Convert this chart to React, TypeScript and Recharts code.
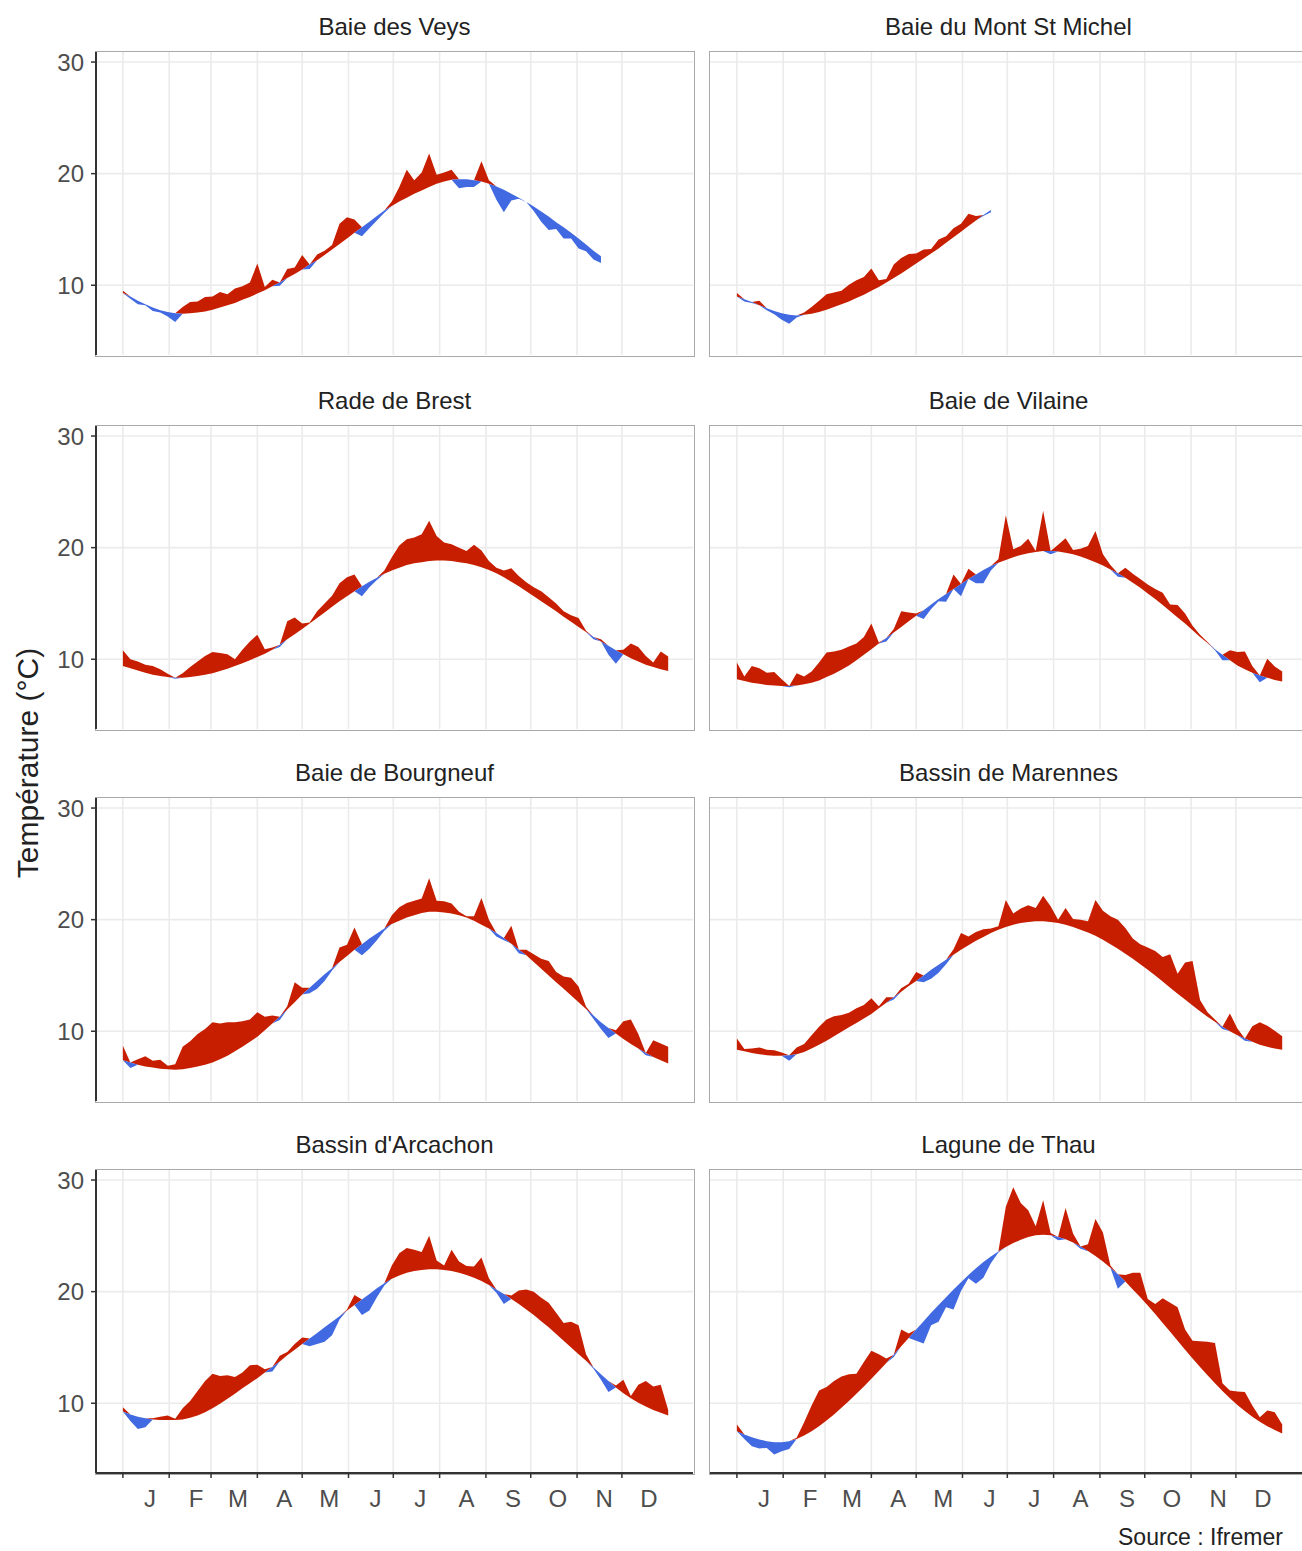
import { ComposedChart, Area, XAxis, YAxis, CartesianGrid } from 'recharts';

// Anomalies de température par rapport à la climatologie (pas de 5 jours)
const _ = null;

const DAYS = [
  0, 5, 10, 15, 20, 25, 30, 35, 40, 45,
  50, 55, 60, 65, 70, 75, 80, 85, 90, 95,
  100, 105, 110, 115, 120, 125, 130, 135, 140, 145,
  150, 155, 160, 165, 170, 175, 180, 185, 190, 195,
  200, 205, 210, 215, 220, 225, 230, 235, 240, 245,
  250, 255, 260, 265, 270, 275, 280, 285, 290, 295,
  300, 305, 310, 315, 320, 325, 330, 335, 340, 345,
  350, 355, 360, 365,
];

const MONTH_STARTS = [0, 31, 59, 90, 120, 151, 181, 212, 243, 273, 304, 334];
const MONTH_LABELS = ['J', 'F', 'M', 'A', 'M', 'J', 'J', 'A', 'S', 'O', 'N', 'D'];
const Y_TICKS = [10, 20, 30];

// Baie des Veys
const VEYS_CLIM = [
  9.3, 9.0, 8.6, 8.3, 8.0, 7.75, 7.6, 7.5, 7.45, 7.5,
  7.55, 7.65, 7.8, 8.0, 8.2, 8.4, 8.7, 8.95, 9.25, 9.55,
  9.9, 10.25, 10.65, 11.0, 11.4, 11.85, 12.25, 12.7, 13.2, 13.7,
  14.2, 14.7, 15.2, 15.7, 16.2, 16.7, 17.1, 17.5, 17.85, 18.2,
  18.5, 18.8, 19.1, 19.3, 19.45, 19.5, 19.5, 19.4, 19.3, 19.1,
  18.85, 18.55, 18.2, 17.85, 17.45, 17.05, 16.6, 16.15, 15.65, 15.2,
  14.7, 14.2, 13.65, 13.1, 12.6, _, _, _, _, _,
  _, _, _, _,
];
const VEYS_ECART = [
  0.2, -0.2, -0.3, -0.1, -0.3, -0.2, -0.4, -0.8, 0.6, 1.0,
  1.0, 1.3, 1.2, 1.4, 1.0, 1.3, 1.2, 1.3, 2.7, 0.3,
  0.6, -0.3, 0.8, 0.6, 1.3, -0.4, 0.5, 0.4, 0.4, 1.8,
  1.9, 1.2, -0.8, -0.6, -0.4, -0.2, 0.4, 1.3, 2.5, 1.2,
  1.6, 3.0, 0.8, 0.8, 0.9, -0.8, -0.7, -0.6, 1.8, 0.3,
  -1.2, -2.0, -0.6, -0.1, 0.0, -0.4, -0.9, -1.2, -0.6, -1.0,
  -0.5, -0.9, -0.6, -0.8, -0.6, _, _, _, _, _,
  _, _, _, _,
];

// Baie du Mont St Michel
const MSM_CLIM = [
  9.0, 8.75, 8.5, 8.2, 7.95, 7.7, 7.5, 7.35, 7.3, 7.35,
  7.45, 7.6, 7.8, 8.05, 8.3, 8.55, 8.85, 9.15, 9.5, 9.85,
  10.25, 10.65, 11.05, 11.5, 11.95, 12.4, 12.85, 13.3, 13.8, 14.3,
  14.8, 15.3, 15.8, 16.3, 16.75, _, _, _, _, _,
  _, _, _, _, _, _, _, _, _, _,
  _, _, _, _, _, _, _, _, _, _,
  _, _, _, _, _, _, _, _, _, _,
  _, _, _, _,
];
const MSM_ECART = [
  0.3, -0.2, -0.1, 0.4, -0.2, -0.3, -0.6, -0.8, -0.2, 0.2,
  0.6, 1.0, 1.4, 1.3, 1.2, 1.5, 1.6, 1.6, 2.0, 0.6,
  0.3, 1.2, 1.4, 1.3, 0.9, 0.8, 0.4, 0.8, 0.6, 0.8,
  0.7, 1.1, 0.4, -0.1, -0.2, _, _, _, _, _,
  _, _, _, _, _, _, _, _, _, _,
  _, _, _, _, _, _, _, _, _, _,
  _, _, _, _, _, _, _, _, _, _,
  _, _, _, _,
];

// Rade de Brest
const BREST_CLIM = [
  9.4, 9.2, 9.0, 8.8, 8.6, 8.5, 8.4, 8.35, 8.35, 8.4,
  8.5, 8.6, 8.75, 8.95, 9.15, 9.4, 9.65, 9.9, 10.2, 10.5,
  10.85, 11.3, 11.8, 12.25, 12.7, 13.2, 13.7, 14.2, 14.7, 15.2,
  15.65, 16.1, 16.55, 16.95, 17.3, 17.65, 17.95, 18.2, 18.45, 18.6,
  18.7, 18.8, 18.85, 18.85, 18.8, 18.7, 18.6, 18.45, 18.25, 18.0,
  17.7, 17.35, 16.95, 16.55, 16.1, 15.65, 15.2, 14.75, 14.3, 13.8,
  13.35, 12.9, 12.45, 12.0, 11.6, 11.2, 10.8, 10.45, 10.1, 9.8,
  9.5, 9.3, 9.1, 8.95,
];
const BREST_ECART = [
  1.4, 0.8, 0.8, 0.7, 0.8, 0.6, 0.3, -0.1, 0.4, 0.9,
  1.3, 1.7, 1.9, 1.6, 1.3, 0.6, 1.2, 1.7, 2.0, 0.4,
  0.2, -0.2, 1.6, 1.5, 0.5, 0.1, 0.6, 0.8, 1.0, 1.6,
  1.7, 1.5, -0.9, -0.5, -0.2, 0.3, 1.2, 2.0, 2.3, 2.3,
  2.5, 3.6, 2.2, 1.6, 1.5, 1.3, 1.1, 1.8, 1.5, 0.8,
  0.5, 0.6, 1.2, 0.9, 0.8, 0.8, 0.9, 0.8, 0.7, 0.5,
  0.6, 0.8, 0.1, -0.2, 0.2, -0.8, -1.2, 0.4, 1.3, 1.3,
  0.8, 0.4, 1.6, 1.3,
];

// Baie de Vilaine
const VILAINE_CLIM = [
  8.2, 8.05, 7.9, 7.8, 7.7, 7.65, 7.6, 7.6, 7.65, 7.75,
  7.9, 8.1, 8.4, 8.7, 9.05, 9.45, 9.9, 10.4, 10.9, 11.4,
  11.9, 12.4, 12.9, 13.4, 13.9, 14.4, 14.9, 15.4, 15.85, 16.3,
  16.75, 17.2, 17.6, 18.0, 18.35, 18.65, 18.9, 19.15, 19.35, 19.5,
  19.6, 19.7, 19.7, 19.65, 19.55, 19.4, 19.2, 18.95, 18.7, 18.4,
  18.05, 17.7, 17.3, 16.85, 16.4, 15.9, 15.4, 14.85, 14.3, 13.75,
  13.2, 12.6, 12.0, 11.45, 10.9, 10.4, 9.9, 9.45, 9.1, 8.8,
  8.55, 8.35, 8.15, 8.0,
];
const VILAINE_ECART = [
  1.5, 0.4, 1.5, 1.4, 1.1, 1.2, 0.6, -0.1, 1.1, 0.7,
  1.0, 1.6, 2.2, 2.0, 1.8, 1.7, 1.5, 1.6, 2.3, 0.1,
  -0.3, 0.3, 1.4, 0.8, 0.2, -0.8, -0.4, -0.2, -0.7, 1.3,
  -1.1, 0.9, -0.8, -1.2, -0.4, 0.3, 4.0, 0.7, 0.8, 1.3,
  0.1, 3.6, -0.3, 0.6, 1.3, 0.4, 0.7, 1.2, 2.8, 1.0,
  0.4, -0.3, 0.9, 0.8, 0.8, 0.8, 0.9, 1.1, 0.6, 1.1,
  0.9, 0.4, 0.2, 0.1, -0.1, -0.5, 0.9, 1.2, 1.6, 0.6,
  -0.6, 1.7, 1.2, 0.9,
];

// Baie de Bourgneuf
const BOURGNEUF_CLIM = [
  7.4, 7.2, 7.0, 6.85, 6.75, 6.65, 6.6, 6.55, 6.6, 6.7,
  6.85, 7.0, 7.2, 7.5, 7.8, 8.2, 8.6, 9.05, 9.5, 10.1,
  10.7, 11.3, 11.95, 12.6, 13.3, 13.9, 14.5, 15.1, 15.65, 16.2,
  16.75, 17.3, 17.8, 18.3, 18.75, 19.2, 19.6, 19.9, 20.2, 20.4,
  20.6, 20.7, 20.7, 20.65, 20.55, 20.4, 20.2, 19.9, 19.55, 19.2,
  18.8, 18.35, 17.85, 17.3, 16.8, 16.2, 15.6, 15.0, 14.4, 13.8,
  13.2, 12.6, 12.0, 11.4, 10.8, 10.3, 9.8, 9.3, 8.85, 8.45,
  8.05, 7.7, 7.4, 7.1,
];
const BOURGNEUF_ECART = [
  1.3, -0.5, 0.5, 0.9, 0.6, 0.8, 0.3, 0.5, 2.0, 2.4,
  2.9, 3.2, 3.6, 3.2, 3.0, 2.6, 2.3, 2.0, 2.2, 1.2,
  0.7, -0.3, 0.3, 1.8, 0.6, -0.5, -0.7, -0.6, -0.2, 1.3,
  1.0, 2.0, -1.0, -0.9, -0.6, -0.2, 0.8, 1.2, 1.3, 1.3,
  1.3, 3.0, 1.0, 1.0, 0.9, 0.3, 0.1, 0.4, 2.4, 0.8,
  -0.3, -0.2, 1.6, -0.3, 0.5, 0.7, 0.9, 1.3, 0.9, 1.1,
  1.6, 1.4, 0.2, -0.3, -0.6, -0.9, 0.3, 1.6, 2.2, 1.3,
  -0.2, 1.5, 1.5, 1.5,
];

// Bassin de Marennes
const MARENNES_CLIM = [
  8.35, 8.2, 8.05, 7.95, 7.85, 7.8, 7.8, 7.85, 7.95, 8.15,
  8.45, 8.8, 9.15, 9.55, 9.95, 10.35, 10.75, 11.15, 11.55, 12.05,
  12.55, 13.05, 13.55, 14.05, 14.5, 15.0, 15.5, 15.95, 16.4, 16.85,
  17.3, 17.7, 18.1, 18.45, 18.8, 19.1, 19.35, 19.55, 19.7, 19.8,
  19.85, 19.85, 19.8, 19.7, 19.55, 19.35, 19.1, 18.85, 18.55, 18.2,
  17.8, 17.4, 16.95, 16.5, 16.0, 15.5, 15.0, 14.45, 13.9, 13.35,
  12.85, 12.3, 11.8, 11.3, 10.85, 10.4, 10.0, 9.65, 9.35, 9.05,
  8.8, 8.6, 8.45, 8.35,
];
const MARENNES_ECART = [
  1.0, 0.2, 0.4, 0.6, 0.5, 0.5, 0.3, -0.5, 0.6, 0.7,
  1.2, 1.6, 1.9, 1.8, 1.5, 1.3, 1.3, 1.2, 1.4, 0.2,
  0.5, -0.2, 0.3, 0.2, 0.8, -0.6, -0.8, -0.7, -0.4, 0.5,
  1.5, 0.8, 0.8, 0.7, 0.4, 0.3, 2.4, 1.0, 1.3, 1.5,
  1.2, 2.3, 1.4, 0.3, 1.5, 0.7, 0.9, 1.0, 3.2, 2.6,
  2.5, 2.6, 2.3, 1.8, 1.8, 2.0, 2.2, 2.2, 3.0, 1.8,
  3.3, 4.0, 1.0, 0.4, 0.2, -0.2, 1.6, 0.6, -0.2, 1.4,
  2.0, 1.9, 1.6, 1.2,
];

// Bassin d'Arcachon
const ARCACHON_CLIM = [
  9.25, 9.0, 8.8, 8.65, 8.55, 8.5, 8.5, 8.5, 8.55, 8.7,
  8.9, 9.2, 9.55, 9.95, 10.4, 10.85, 11.35, 11.8, 12.25, 12.75,
  13.25, 13.75, 14.3, 14.8, 15.3, 15.8, 16.3, 16.8, 17.3, 17.8,
  18.3, 18.8, 19.3, 19.8, 20.3, 20.75, 21.15, 21.45, 21.7, 21.85,
  21.95, 22.0, 22.0, 21.95, 21.85, 21.7, 21.5, 21.25, 20.95, 20.6,
  20.2, 19.8, 19.35, 18.9, 18.4, 17.9, 17.35, 16.8, 16.2, 15.6,
  15.0, 14.4, 13.8, 13.2, 12.6, 12.0, 11.4, 10.9, 10.45, 10.05,
  9.7, 9.4, 9.15, 8.9,
];
const ARCACHON_ECART = [
  0.4, -0.6, -1.1, -0.8, 0.1, 0.3, 0.4, 0.1, 1.0, 1.5,
  2.2, 2.8, 3.1, 2.5, 2.1, 1.5, 1.4, 1.6, 1.2, 0.3,
  -0.4, 0.5, 0.3, 0.5, 0.6, -0.7, -1.0, -1.3, -1.2, -0.3,
  0.1, 0.9, -1.4, -1.5, -0.8, -0.2, 1.2, 2.0, 2.2, 1.9,
  1.6, 3.0, 0.8, 0.4, 1.9, 1.0, 0.8, 1.0, 2.1, 0.6,
  -0.3, -0.9, 0.3, 1.2, 1.8, 2.1, 2.1, 2.2, 1.9, 1.6,
  2.3, 2.6, 0.6, -0.1, -0.5, -1.0, 0.2, 1.2, 0.2, 1.6,
  2.3, 2.1, 2.5, 0.5,
];

// Lagune de Thau
const THAU_CLIM = [
  7.5, 7.2, 6.95, 6.75, 6.6, 6.5, 6.5, 6.6, 6.8, 7.1,
  7.5, 7.95, 8.45, 9.0, 9.6, 10.2, 10.85, 11.5, 12.2, 12.9,
  13.6, 14.35, 15.1, 15.85, 16.6, 17.35, 18.1, 18.8, 19.5, 20.2,
  20.85, 21.5, 22.1, 22.65, 23.15, 23.6, 24.0, 24.35, 24.65, 24.9,
  25.05, 25.1, 25.05, 24.9, 24.7, 24.4, 24.05, 23.65, 23.2, 22.7,
  22.15, 21.55, 20.9, 20.2, 19.5, 18.75, 18.0, 17.2, 16.4, 15.6,
  14.8, 14.0, 13.25, 12.5, 11.8, 11.1, 10.45, 9.85, 9.3, 8.8,
  8.35, 7.95, 7.6, 7.3,
];
const THAU_ECART = [
  0.6, -0.4, -0.8, -0.8, -0.6, -1.1, -0.8, -0.7, 0.1, 1.2,
  2.3, 3.2, 3.0, 3.0, 2.8, 2.4, 1.8, 2.2, 2.5, 1.5,
  0.4, -0.2, 1.5, 0.4, -1.0, -2.0, -1.1, -1.5, -0.9, -1.8,
  -0.8, -0.3, -1.4, -1.4, -0.6, -0.1, 3.6, 5.0, 3.3, 2.4,
  0.8, 3.1, 0.2, -0.3, 2.8, 0.8, -0.2, 0.6, 3.3, 2.6,
  0.2, -1.3, 0.6, 1.5, 2.2, 0.6, 0.9, 2.2, 2.6, 3.0,
  1.8, 1.6, 2.3, 3.0, 3.6, 0.7, 0.7, 1.2, 1.7, 1.0,
  0.4, 1.4, 1.6, 0.8,
];

const SITES = [
  { name: 'Baie des Veys', clim: VEYS_CLIM, ecart: VEYS_ECART },
  { name: 'Baie du Mont St Michel', clim: MSM_CLIM, ecart: MSM_ECART },
  { name: 'Rade de Brest', clim: BREST_CLIM, ecart: BREST_ECART },
  { name: 'Baie de Vilaine', clim: VILAINE_CLIM, ecart: VILAINE_ECART },
  { name: 'Baie de Bourgneuf', clim: BOURGNEUF_CLIM, ecart: BOURGNEUF_ECART },
  { name: 'Bassin de Marennes', clim: MARENNES_CLIM, ecart: MARENNES_ECART },
  { name: "Bassin d'Arcachon", clim: ARCACHON_CLIM, ecart: ARCACHON_ECART },
  { name: 'Lagune de Thau', clim: THAU_CLIM, ecart: THAU_ECART },
];

const FONT = '"Liberation Sans", Arial, Helvetica, sans-serif';
const RED = '#c81e00';
const BLUE = '#4169e1';
const PANEL_W = 597;
const PANEL_H = 303;
const TOP_PAD = 14; // place pour le libellé "30" au ras du panneau
const COL_LEFTS = [96, 710];
const ROW_TOPS = [52, 426, 798, 1170];
const X_DOMAIN = [-18, 381.6];
const Y_DOMAIN = [3.75, 30.9];

function buildRows(clim: (number | null)[], ecart: (number | null)[]) {
  return DAYS.map((day, i) => {
    const c = clim[i];
    const e = ecart[i];
    if (c == null || e == null) return { day, chaud: null, froid: null };
    const obs = c + e;
    return { day, chaud: [c, Math.max(obs, c)], froid: [Math.min(obs, c), c] };
  });
}

function MonthTick(props: any) {
  const { x, y, payload } = props;
  const i = MONTH_STARTS.indexOf(payload.value);
  return (
    <text x={x + 27} y={y} dy="0.72em" textAnchor="middle" fill="#4d4d4d" fontSize={24} fontFamily={FONT}>
      {MONTH_LABELS[i]}
    </text>
  );
}

function Panel({ site, index }: { site: (typeof SITES)[number]; index: number }) {
  const row = Math.floor(index / 2);
  const col = index % 2;
  const showY = col === 0;
  const showX = row === 3;
  const yw = showY ? 60 : 0;
  const xh = showX ? 46 : 0;
  const px = COL_LEFTS[col];
  const py = ROW_TOPS[row];
  const data = buildRows(site.clim, site.ecart);

  return (
    <>
      <div
        style={{
          position: 'absolute', left: px, top: py - 38, width: PANEL_W, textAlign: 'center',
          fontSize: 24, lineHeight: '26px', color: '#222', whiteSpace: 'nowrap',
        }}
      >
        {site.name}
      </div>
      <div
        style={{
          position: 'absolute', left: px - 1.5, top: py - 1.5, width: PANEL_W + 3, height: PANEL_H + 3,
          border: '1.5px solid #a9a9a9', boxSizing: 'border-box',
        }}
      />
      <div style={{ position: 'absolute', left: px - yw, top: py - TOP_PAD }}>
        <ComposedChart
          width={PANEL_W + yw}
          height={PANEL_H + xh + TOP_PAD}
          data={data}
          margin={{ top: TOP_PAD, right: 0, bottom: 0, left: 0 }}
        >
          <CartesianGrid horizontalValues={Y_TICKS} verticalValues={MONTH_STARTS} stroke="#ebebeb" strokeWidth={1.6} />
          <XAxis
            type="number"
            dataKey="day"
            domain={X_DOMAIN}
            ticks={MONTH_STARTS}
            allowDataOverflow
            hide={!showX}
            height={xh}
            axisLine={{ stroke: '#333', strokeWidth: 2 }}
            tickLine={{ stroke: '#333', strokeWidth: 1.5 }}
            tickSize={5}
            tickMargin={12}
            tick={<MonthTick />}
            interval={0}
          />
          <YAxis
            type="number"
            domain={Y_DOMAIN}
            ticks={Y_TICKS}
            allowDataOverflow
            hide={!showY}
            width={yw}
            axisLine={{ stroke: '#333', strokeWidth: 2 }}
            tickLine={{ stroke: '#333', strokeWidth: 1.5 }}
            tickSize={5}
            tickMargin={7}
            tick={{ fill: '#4d4d4d', fontSize: 24, fontFamily: FONT }}
            interval={0}
          />
          <Area type="linear" dataKey="chaud" stroke="none" fill={RED} fillOpacity={1} isAnimationActive={false} dot={false} activeDot={false} />
          <Area type="linear" dataKey="froid" stroke="none" fill={BLUE} fillOpacity={1} isAnimationActive={false} dot={false} activeDot={false} />
        </ComposedChart>
      </div>
    </>
  );
}

export default function App() {
  return (
    <div
      style={{
        position: 'absolute', left: 0, top: 0, width: 1302, height: 1551, overflow: 'hidden',
        background: '#fff', fontFamily: FONT,
      }}
    >
      {SITES.map((site, i) => (
        <Panel key={site.name} site={site} index={i} />
      ))}
      <div
        style={{
          position: 'absolute', left: 28, top: 763, transform: 'translate(-50%, -50%) rotate(-90deg)',
          fontSize: 30, color: '#222', whiteSpace: 'nowrap',
        }}
      >
        Température (°C)
      </div>
      <div
        style={{
          position: 'absolute', left: 1118, top: 1526, fontSize: 23, lineHeight: '22px',
          color: '#222', whiteSpace: 'nowrap',
        }}
      >
        Source : Ifremer
      </div>
    </div>
  );
}
